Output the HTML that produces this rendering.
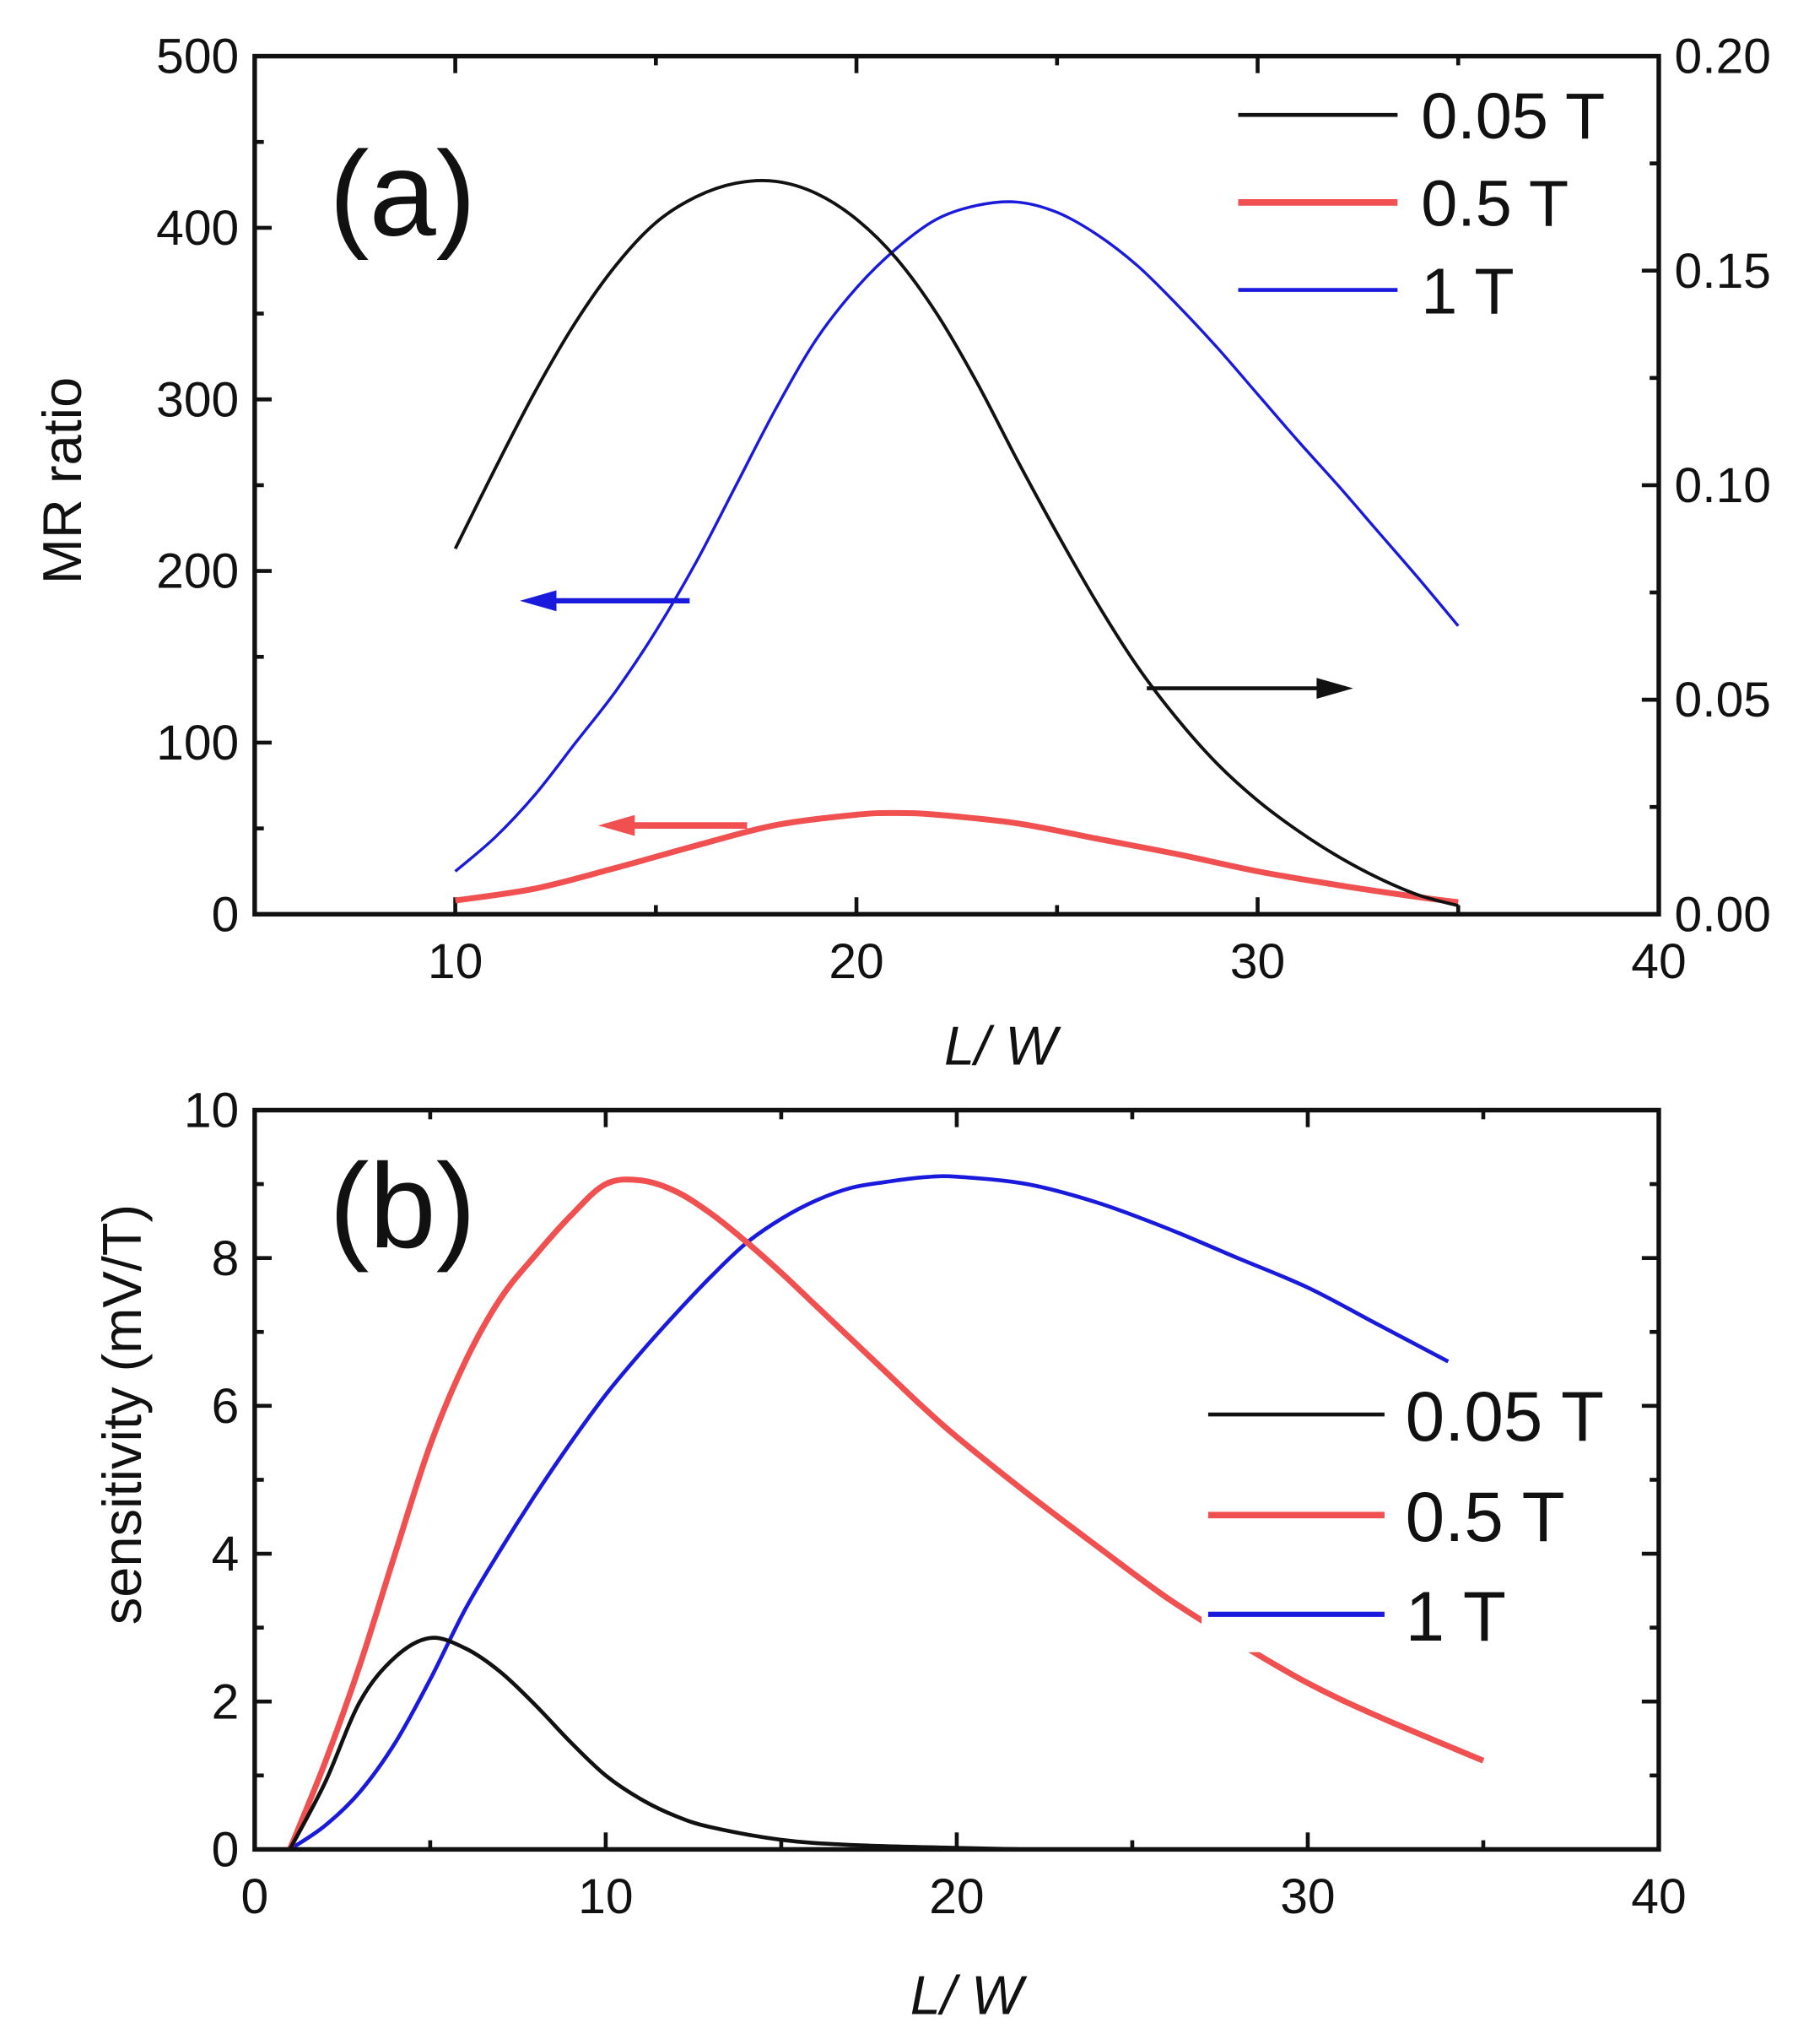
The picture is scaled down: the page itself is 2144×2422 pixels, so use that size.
<!DOCTYPE html>
<html><head><meta charset="utf-8">
<style>
html,body{margin:0;padding:0;background:#fff;}
svg{display:block;}
text{font-family:"Liberation Sans",Arial,sans-serif;fill:#111;}
</style></head>
<body>
<svg id="chart" width="2144" height="2422" viewBox="0 0 1385 1565" preserveAspectRatio="none" xmlns="http://www.w3.org/2000/svg">
<g id="pa"></g>
<g id="pb"></g>
</svg>
<script>
// Panel (a) data
const aX = [10,11,12,13,14,15,16,17,18,19,20,21,22,23,24,25,26,27,28,29,30,31,32,33,34,35];
const aBlack = [0.0852,0.104,0.122,0.138,0.1512,0.1612,0.1672,0.1704,0.1708,0.168,0.162,0.1528,0.14,0.124,0.106,0.0888,0.0725,0.0578,0.0455,0.035,0.0265,0.0195,0.0135,0.0085,0.0045,0.002];
const aBlue = [25,45,70,100,130,165,205,250,295,335,365,388,405,413,415,409,396,378,355,330,303,276,250,223,196,168];
const aRedX = [10,12,14,16,18,20,21,22,24,26,28,30,32,34,35];
const aRed = [8,15,27,40,52,58,59,58,53,44,35,25,17,10,7];
const aXTicks = [10,20,30,40];
const aYTicks = [0,100,200,300,400,500];
const aY2Ticks = ["0.00","0.05","0.10","0.15","0.20"];
// Panel (b) data
const bBlackX = [1,2,3,4,5,6,7,8,9,10,11,12,13,15,17,20,22];
const bBlack = [0,0.9,2.0,2.6,2.86,2.72,2.4,1.95,1.45,1.0,0.68,0.45,0.3,0.13,0.06,0.02,0];
const bRedX = [1,2,3,4,5,6,7,8,9,10,11,12,13,14,15,16,17,18,19,20,22,24,26,28,30,32,35];
const bRed = [0,1.17,2.5,4.0,5.47,6.6,7.45,8.04,8.57,9.0,9.05,8.9,8.6,8.22,7.8,7.35,6.9,6.45,6.0,5.58,4.82,4.1,3.4,2.8,2.25,1.8,1.2];
const bBlueX = [1,2,3,4,5,6,7,8,9,10,11,12,13,14,15,16,17,18,19,20,22,24,26,28,30,32,34];
const bBlue = [0,0.32,0.78,1.44,2.3,3.25,4.05,4.8,5.5,6.15,6.72,7.25,7.75,8.2,8.53,8.78,8.95,9.03,9.09,9.1,9.0,8.75,8.4,8.0,7.6,7.1,6.6];
const bXTicks = [0,10,20,30,40];
const bYTicks = [0,2,4,6,8,10];

const NS="http://www.w3.org/2000/svg";
function mk(parent,tag,attrs){const e=document.createElementNS(NS,tag);for(const k in attrs)e.setAttribute(k,attrs[k]);parent.appendChild(e);return e;}
function lin(d0,d1,r0,r1){return v=>r0+(v-d0)/(d1-d0)*(r1-r0);}
function path(xs,ys,sx,sy){
  const p=xs.map((x,i)=>[sx(x),sy(ys[i])]);
  let d="M"+p[0][0]+","+p[0][1];
  for(let i=0;i<p.length-1;i++){
    const p0=p[i-1]||p[i],p1=p[i],p2=p[i+1],p3=p[i+2]||p2;
    const c1x=p1[0]+(p2[0]-p0[0])/6,c1y=p1[1]+(p2[1]-p0[1])/6;
    const c2x=p2[0]-(p3[0]-p1[0])/6,c2y=p2[1]-(p3[1]-p1[1])/6;
    d+=" C"+c1x+","+c1y+" "+c2x+","+c2y+" "+p2[0]+","+p2[1];
  }
  return d;
}
const L=195,R=1270;

// ---------- Panel A ----------
(function(){
  const g=document.getElementById('pa');
  const T=43,B=700;
  const sx=lin(5,40,L,R), sy=lin(0,500,B,T), sy2=lin(0,0.2,B,T);
  for(let v=5;v<=40;v+=5){const maj=v%10===0;const x=sx(v);const len=maj?13:7;
    let t=mk(g,'line',{x1:x,y1:B,x2:x,y2:B-len,stroke:'#111','stroke-width':3});
    
    
    mk(g,'line',{x1:x,y1:T,x2:x,y2:T+len,stroke:'#111','stroke-width':3});}
  for(let v=0;v<=500;v+=50){const maj=v%100===0;const y=sy(v);const len=maj?13:7;
    let t=mk(g,'line',{x1:L,y1:y,x2:L+len,y2:y,stroke:'#111','stroke-width':3});
    
    }
  for(let v=0;v<=0.2001;v+=0.025){const maj=Math.round(v*1000)%50===0;const y=sy2(v);const len=maj?13:7;
    mk(g,'line',{x1:R,y1:y,x2:R-len,y2:y,stroke:'#111','stroke-width':3});}
  aXTicks.forEach(v=>{const t=mk(g,'text',{x:sx(v),y:B+49,'font-size':38,'text-anchor':'middle'});t.textContent=v;
    
    });
  aYTicks.forEach(v=>{const t=mk(g,'text',{x:L-12,y:sy(v)+13,'font-size':38,'text-anchor':'end'});t.textContent=v;
    
    });
  aY2Ticks.forEach(s=>{const t=mk(g,'text',{x:R+12,y:sy2(parseFloat(s))+13,'font-size':38,'text-anchor':'start'});t.textContent=s;
    
    });
  let p=mk(g,'path',{d:path(aX,aBlue,sx,sy),fill:'none',stroke:'#1a1adc','stroke-width':2.2});
  
  
  p=mk(g,'path',{d:path(aRedX,aRed,sx,sy),fill:'none',stroke:'#f05050','stroke-width':4.5});
  
  
  p=mk(g,'path',{d:path(aX,aBlack,sx,sy2),fill:'none',stroke:'#111','stroke-width':2.5});
  
  
  let f=mk(g,'rect',{x:L,y:T,width:R-L,height:B-T,fill:'none',stroke:'#111','stroke-width':3.5});
  
  
  function arrow(x1,x2,y,col,w,name){
    const a=mk(g,'g',{});
    
    
    const dir=x2>x1?1:-1;
    mk(a,'line',{x1:x1,y1:y,x2:x2-dir*20,y2:y,stroke:col,'stroke-width':w});
    mk(a,'polygon',{points:`${x2},${y} ${x2-dir*28},${y-8} ${x2-dir*28},${y+8}`,fill:col});
  }
  arrow(528,398,460,'#1a1adc',4,'arrow-1t-left-axis');
  arrow(572,458,632,'#f05050',5,'arrow-0.5t-left-axis');
  arrow(878,1036,527,'#111',3,'arrow-0.05t-right-axis');
  let t=mk(g,'text',{x:252,y:180,'font-size':92});t.textContent='(a)';
  
  
  t=mk(g,'text',{x:0,y:0,'font-size':42,'text-anchor':'middle',transform:'translate(62,368) rotate(-90)'});t.textContent='MR ratio';
  
  
  t=mk(g,'text',{x:766,y:815,'font-size':42,'text-anchor':'middle','font-style':'italic'});t.textContent='L/ W';
  
  
  const lg=mk(g,'g',{});
  
  
  [['0.05 T','#111',3,88],['0.5 T','#f05050',5,155],['1 T','#1a1adc',3,222]].forEach(([s,c,w,y])=>{
    const e=mk(lg,'g',{});
    
    
    mk(e,'line',{x1:948,y1:y,x2:1070,y2:y,stroke:c,'stroke-width':w});
    const tt=mk(e,'text',{x:1088,y:y+18,'font-size':50});tt.textContent=s;
  });
})();

// ---------- Panel B ----------
(function(){
  const g=document.getElementById('pb');
  const T=850,B=1416;
  const sx=lin(0,40,L,R), sy=lin(0,10,B,T);
  for(let v=0;v<=40;v+=5){const maj=v%10===0;const x=sx(v);const len=maj?13:7;
    let t=mk(g,'line',{x1:x,y1:B,x2:x,y2:B-len,stroke:'#111','stroke-width':3});
    
    
    mk(g,'line',{x1:x,y1:T,x2:x,y2:T+len,stroke:'#111','stroke-width':3});}
  for(let v=0;v<=10;v+=1){const maj=v%2===0;const y=sy(v);const len=maj?13:7;
    let t=mk(g,'line',{x1:L,y1:y,x2:L+len,y2:y,stroke:'#111','stroke-width':3});
    
    
    mk(g,'line',{x1:R,y1:y,x2:R-len,y2:y,stroke:'#111','stroke-width':3});}
  bXTicks.forEach(v=>{const t=mk(g,'text',{x:sx(v),y:B+49,'font-size':38,'text-anchor':'middle'});t.textContent=v;
    
    });
  bYTicks.forEach(v=>{const t=mk(g,'text',{x:L-12,y:sy(v)+13,'font-size':38,'text-anchor':'end'});t.textContent=v;
    
    });
  let p=mk(g,'path',{d:path(bBlueX,bBlue,sx,sy),fill:'none',stroke:'#1a1adc','stroke-width':3});
  
  
  p=mk(g,'path',{d:path(bRedX,bRed,sx,sy),fill:'none',stroke:'#f05050','stroke-width':4.5});
  
  
  p=mk(g,'path',{d:path(bBlackX,bBlack,sx,sy),fill:'none',stroke:'#111','stroke-width':3});
  
  
  let f=mk(g,'rect',{x:L,y:T,width:R-L,height:B-T,fill:'none',stroke:'#111','stroke-width':3.5});
  
  
  let t=mk(g,'text',{x:252,y:955,'font-size':92});t.textContent='(b)';
  
  
  t=mk(g,'text',{x:0,y:0,'font-size':42,'text-anchor':'middle',transform:'translate(108,1083) rotate(-90)'});t.textContent='sensitivity (mV/T)';
  
  
  t=mk(g,'text',{x:740,y:1542,'font-size':42,'text-anchor':'middle','font-style':'italic'});t.textContent='L/ W';
  
  
  const lg=mk(g,'g',{});
  
  
  mk(lg,'rect',{x:920,y:1045,width:330,height:220,fill:'#fff'});
  [['0.05 T','#111',3,1083],['0.5 T','#f05050',5,1160],['1 T','#1a1adc',4,1236]].forEach(([s,c,w,y])=>{
    const e=mk(lg,'g',{});
    
    
    mk(e,'line',{x1:925,y1:y,x2:1060,y2:y,stroke:c,'stroke-width':w});
    const tt=mk(e,'text',{x:1076,y:y+20,'font-size':54});tt.textContent=s;
  });
})();
</script>
</body></html>
